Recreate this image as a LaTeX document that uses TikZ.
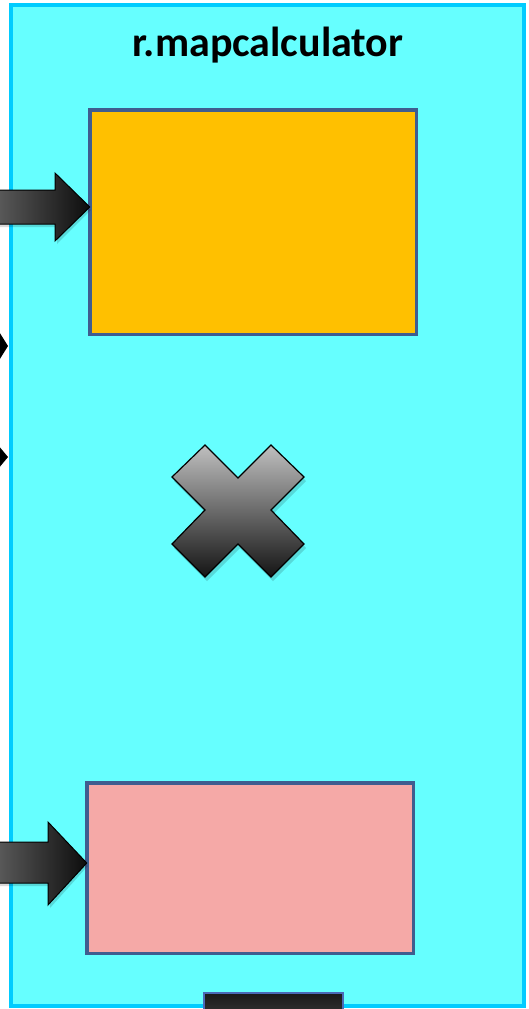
\documentclass[tikz,border=0pt]{standalone}
\usepackage{fontspec}
\setmainfont{Carlito}
\definecolor{contfill}{HTML}{66FFFF}
\definecolor{contline}{HTML}{00CCFF}
\definecolor{boxline}{HTML}{3F5D8F}
\definecolor{orangefill}{HTML}{FFC000}
\definecolor{pinkfill}{HTML}{F5A9A7}
\definecolor{portline}{HTML}{4A6AB8}
\tikzset{
  container/.style={draw=contline, fill=contfill, line width=4pt},
  innerbox/.style={draw=boxline, line width=3.5pt, inner sep=0pt, outer sep=0pt},
  fatarrow/.style={draw=black, line width=1pt, left color=black!65, right color=black!95, line join=miter},
  shadowfill/.style={fill=black, opacity=0.15},
  crossshape/.style={draw=black, line width=1.2pt, top color=black!25, bottom color=black!92, line join=miter},
  title/.style={font=\bfseries\fontsize{42}{50}\selectfont, inner sep=0pt, anchor=base},
}
\begin{document}
\begin{tikzpicture}[x=1pt,y=-1pt]
\useasboundingbox (0,0) rectangle (529,1009);
% container
\draw[container] (11,5) rectangle (524,1006);
\node[title] (ttl) at (268,56) {r.mapcalculator};
% boxes
\node[innerbox, fill=orangefill, minimum width=326.5, minimum height=224.5] (calc) at (253,222) {};
\node[innerbox, fill=pinkfill, minimum width=326.5, minimum height=170.5] (out) at (250,868) {};
% cross
\fill[shadowfill] ([shift={(2,4)}]205,445) -- ++(33,33) -- ++(33,-33) -- ++(33,32) -- ++(-33,33) -- ++(33,34) -- ++(-33,33) -- ++(-33,-33) -- ++(-33,33) -- ++(-33,-33) -- ++(33,-34) -- ++(-33,-33) -- cycle;
\path[crossshape] (205,445) -- (238,478) -- (271,445) -- (304,477) -- (271,510) -- (304,544) -- (271,577) -- (238,544) -- (205,577) -- (172,544) -- (205,510) -- (172,477) -- cycle;
% input arrow to calc box
\coordinate (tipA) at (calc.west |- 0,207);
\fill[shadowfill] (0,193) -- (57,193) -- (57,176) -- ([shift={(1,3)}]tipA) -- (57,244) -- (57,227) -- (0,227) -- cycle;
\path[fatarrow] (-2,190) -- (55,190) -- (55,173) -- (tipA) -- (55,241) -- (55,224) -- (-2,224) -- cycle;
% input arrow to output box
\coordinate (tipB) at (out.west |- 0,863);
\fill[shadowfill] (0,845) -- (50,845) -- (50,825) -- ([shift={(1,3)}]tipB) -- (50,908) -- (50,886) -- (0,886) -- cycle;
\path[fatarrow] (-2,842) -- (48,842) -- (48,822) -- (tipB) -- (48,905) -- (48,883) -- (-2,883) -- cycle;
% partial arrow tips at left edge
\fill[black] (-2,330) -- (8,346) -- (-2,362) -- cycle;
\fill[black] (-2,445) -- (8,457) -- (-2,469) -- cycle;
% bottom port
\node[draw=portline, line width=2pt, top color=black!90, bottom color=black!78, minimum width=139, minimum height=26, inner sep=0pt, anchor=north] (port) at (273.5,992) {};
\end{tikzpicture}
\end{document}
